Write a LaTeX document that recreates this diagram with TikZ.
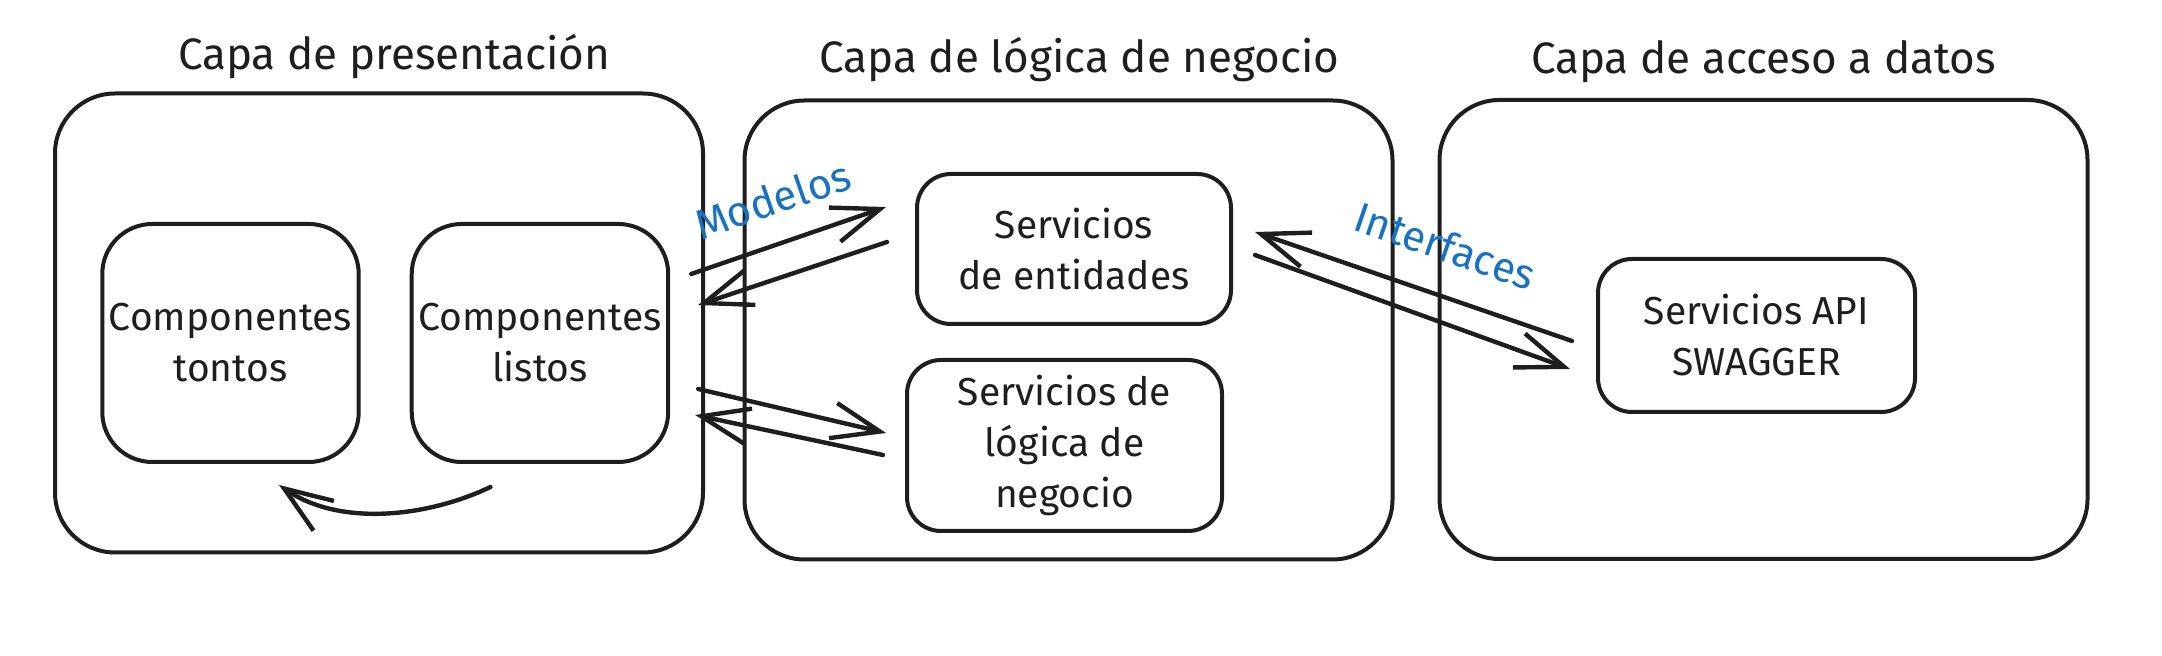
\documentclass[tikz,border=0pt]{standalone}
\usepackage{fontspec}
\setmainfont{Fira Sans}
\usetikzlibrary{arrows.meta, positioning, calc}
\definecolor{tinta}{HTML}{1E1E1E}
\definecolor{azul}{HTML}{1971C2}

\begin{document}
\begin{tikzpicture}[
    x = 0.5pt, y = -0.5pt,
    capa/.style = {rectangle, draw=tinta, line width=2pt, rounded corners=30pt,
                   minimum width=324pt, minimum height=229.5pt},
    comp/.style = {rectangle, draw=tinta, line width=2pt, rounded corners=25pt,
                   align=center, text=tinta, minimum width=126pt, minimum height=119pt},
    caja/.style = {rectangle, draw=tinta, line width=2pt, rounded corners=17pt,
                   align=center, text=tinta},
    pil/.style = {tinta, line width=2.2pt, line cap=round,
                  -{Straight Barb[length=24pt, width=18pt]}},
    lip/.style = {tinta, line width=2.2pt, line cap=round,
                  {Straight Barb[length=24pt, width=18pt]}-},
    etiqueta/.style = {azul, sloped, font=\fontsize{21}{24}\selectfont},
    every label/.style = {text=tinta, font=\fontsize{22}{26}\selectfont},
    font=\fontsize{19.5}{25.5}\selectfont
    ]

  \useasboundingbox (0,0) rectangle (2162,656);

  % capas
  \node[capa,label={[label distance=3pt, xshift=7.5pt]above:Capa de presentación}] (presentacion) at (379,323) {};
  \node[capa,label={[label distance=5pt, xshift=5.5pt]above:Capa de lógica de negocio}] (logica) at (1068.5,330) {};
  \node[capa,label={[label distance=4pt]above:Capa de acceso a datos}] (datos) at (1763.5,329.5) {};

  % componentes
  \node[comp] (tontos) at (230.5,343) {Componentes\\tontos};
  \node[comp] (listos) [right=24.5pt of tontos] {Componentes\\listos};

  % servicios
  \node[caja, minimum width=157pt, minimum height=75pt] (entidades) at (1074,249) {Servicios\\de entidades};
  \node[caja, minimum width=157.5pt, minimum height=85.5pt] (negocio) [below=16pt of entidades, xshift=-4.75pt] {Servicios de\\lógica de\\negocio};
  \node[caja, minimum width=158.5pt, minimum height=76.5pt] (swagger) at (1756.5,335.5) {Servicios API\\SWAGGER};

  \draw[pil] ($(listos.east)+(21,-69)$) -- node[etiqueta, pos=0.49, above=9.5pt] {Modelos} ($(entidades.west)+(-29,-42)$);
  \draw[pil] ($(entidades.west)+(-28,-7)$) -- ($(listos.east)+(28,-38)$);
  \draw[pil] ($(listos.east)+(28,46)$) -- ($(negocio.west)+(-19,-12.5)$);
  \draw[pil] ($(negocio.west)+(-22,9.5)$) -- ($(listos.east)+(25,72)$);

  \draw[lip] ($(entidades.east)+(22,-17)$) -- node[etiqueta, pos=0.55, above=12pt] {Interfaces} ($(swagger.west)+(-24,5.5)$);
  \draw[pil] ($(entidades.east)+(22,6)$) -- ($(swagger.west)+(-26,33.5)$);

  \draw[pil] ($(listos.south)+(-49.5,23)$) .. controls +(-63,30) and +(61,42) .. ($(tontos.south)+(48.5,21)$);

\end{tikzpicture}
\end{document}
